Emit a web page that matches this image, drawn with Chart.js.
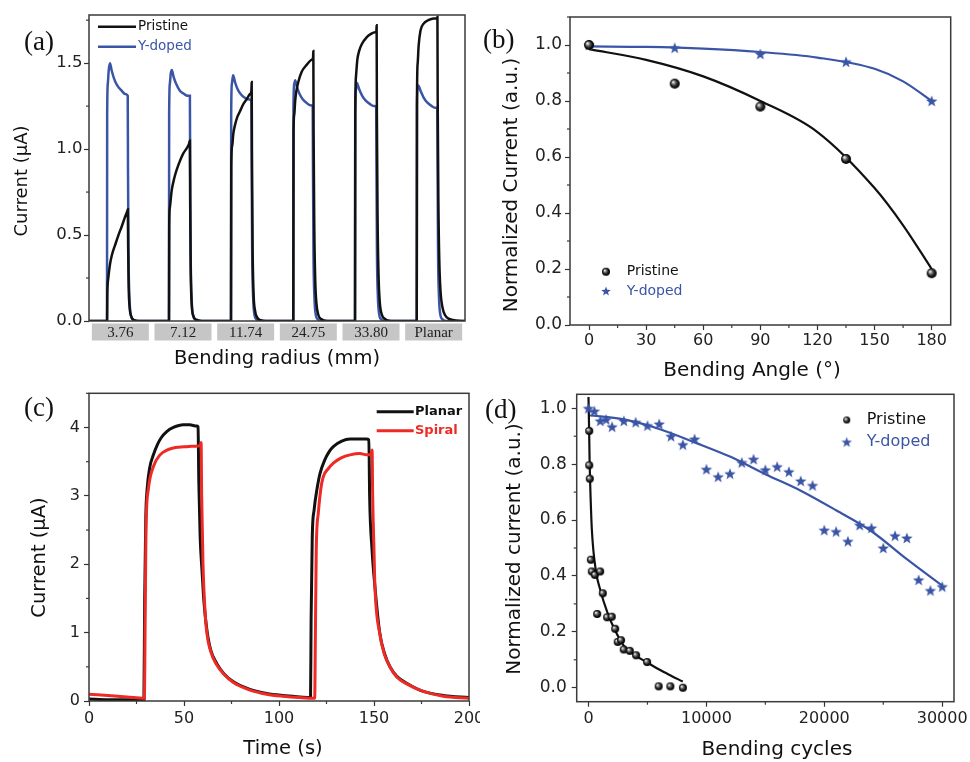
<!DOCTYPE html>
<html>
<head>
<meta charset="utf-8">
<title>Bending tests</title>
<script src="https://cdn.jsdelivr.net/npm/chart.js@4.4.1/dist/chart.umd.min.js"></script>
<style>
  html, body { margin: 0; background: #fff; }
  #page { position: relative; width: 970px; height: 762px; overflow: hidden; background: #fff; }
  #page canvas { position: absolute; }
  .tag { position: absolute; font: 27px "Liberation Serif", "Times New Roman", serif; line-height: 27px; color: #111; }
</style>
</head>
<body>
<div id="page">
  <canvas id="chartA" width="480" height="380" style="left:0;top:0"></canvas>
  <canvas id="chartB" width="490" height="392" style="left:480px;top:0"></canvas>
  <canvas id="chartC" width="480" height="382" style="left:0;top:380px"></canvas>
  <canvas id="chartD" width="490" height="382" style="left:480px;top:380px"></canvas>
  <div class="tag" style="left:24px;top:28px">(a)</div>
  <div class="tag" style="left:483px;top:26px">(b)</div>
  <div class="tag" style="left:24px;top:394px">(c)</div>
  <div class="tag" style="left:485px;top:396px">(d)</div>
</div>
<script>
// ---- (a) current pulses at each bending radius ----
const radiusLabels = ['3.76', '7.12', '11.74', '24.75', '33.80', 'Planar'];
const radiusCenters = [50, 150, 250, 350, 450, 550];
const yTicksA = [0, 0.5, 1.0, 1.5];
const pristineA = [
  [0,0],[28.9,0],[29.2,0.15],[30.5,0.24],[33.5,0.33],[37,0.39],[41.5,0.44],[47,0.5],[52.2,0.55],[57,0.6],[61.2,0.64],[62,0.65],[62.4,0.45],[63.3,0.2],[64.8,0.08],[67.5,0.025],[72,0.005],[80,0],
  [127.7,0],[128,0.55],[129,0.66],[132,0.76],[136,0.83],[140,0.88],[145,0.93],[150.5,0.975],[155,1.0],[159.6,1.03],[161,1.05],[161.4,0.7],[162.3,0.3],[163.8,0.1],[166.5,0.03],[171,0.008],[180,0],
  [226.6,0],[227,0.9],[228.5,1.02],[230.3,1.09],[233,1.14],[237,1.19],[241,1.22],[246,1.26],[251.6,1.29],[256.9,1.32],[259.2,1.34],[259.6,1.39],[260,1.0],[261,0.45],[262.5,0.17],[265,0.06],[268.5,0.02],[274,0.005],[282,0],
  [326,0],[326.4,1.1],[327.5,1.2],[329,1.28],[331,1.34],[334,1.39],[339.4,1.45],[347.4,1.49],[355.4,1.52],[357.5,1.53],[358,1.57],[358.4,1.1],[359.5,0.55],[361,0.24],[363,0.1],[366,0.035],[371,0.01],[380,0],
  [424.5,0],[424.9,1.2],[426,1.42],[428.2,1.52],[431,1.57],[435.2,1.61],[443,1.65],[450,1.67],[456.4,1.68],[458.5,1.68],[459,1.72],[459.4,1.2],[460.5,0.6],[462,0.27],[464,0.11],[467,0.04],[472,0.012],[482,0],
  [523,0],[523.4,1.3],[524.5,1.5],[526,1.6],[529,1.69],[534,1.73],[541.5,1.75],[550,1.76],[555.5,1.76],[556,1.77],[556.4,1.3],[557.5,0.7],[559,0.35],[561,0.17],[564,0.08],[568,0.035],[575,0.012],[585,0.003],[600,0]
];
const dopedA = [
  [0,0],[28.7,0],[29,1.2],[30,1.38],[31.5,1.46],[33.5,1.5],[36,1.46],[40,1.41],[45,1.37],[52,1.34],[58,1.32],[61.8,1.31],[62.2,0.9],[63,0.4],[64.5,0.14],[66.5,0.04],[70,0.01],[76,0],
  [127.6,0],[127.9,1.2],[129,1.38],[130.5,1.44],[132.2,1.46],[135,1.42],[139,1.38],[145,1.34],[152,1.32],[157,1.31],[161,1.31],[161.4,0.9],[162.2,0.4],[163.7,0.14],[165.7,0.04],[169,0.01],[175,0],
  [226.6,0],[226.9,1.2],[228,1.38],[230,1.43],[233,1.39],[237,1.35],[242,1.32],[248,1.3],[254,1.29],[259.2,1.28],[259.6,0.9],[260.4,0.4],[261.9,0.14],[263.9,0.04],[267,0.01],[273,0],
  [326,0],[326.3,1.25],[327.5,1.38],[329,1.4],[332,1.36],[336,1.32],[341,1.29],[347,1.27],[353,1.255],[357,1.25],[357.4,0.9],[358.2,0.4],[359.7,0.14],[361.7,0.04],[365,0.01],[371,0],
  [424.5,0],[424.8,1.2],[425.8,1.34],[427.5,1.385],[431,1.35],[436,1.31],[442,1.28],[449,1.26],[455,1.25],[458.3,1.246],[458.7,0.9],[459.5,0.4],[461,0.14],[463,0.04],[466,0.01],[472,0],
  [523,0],[523.3,1.25],[524.3,1.35],[525.5,1.37],[529,1.34],[534,1.3],[540,1.27],[547,1.25],[553,1.24],[555.8,1.24],[556.2,0.9],[557,0.4],[558.5,0.14],[560.5,0.04],[564,0.01],[570,0],[600,0]
];

// ---- (b) normalized current vs bending angle ----
const angles = [0, 45, 90, 135, 180];
const pristineB = [1.0, 0.862, 0.78, 0.593, 0.185];
const dopedB = [1.0, 0.99, 0.968, 0.94, 0.80];
const fitAngles = [0, 30, 60, 90, 120, 150, 165, 180];
const pristineFitB = [0.985, 0.947, 0.888, 0.80, 0.689, 0.489, 0.356, 0.20];
const dopedFitB = [0.995, 0.993, 0.987, 0.975, 0.955, 0.915, 0.87, 0.80];
const xTicksB = [0, 30, 60, 90, 120, 150, 180];
const yTicksB = [0, 0.2, 0.4, 0.6, 0.8, 1.0];

// ---- (c) planar vs spiral photocurrent ----
const planarC = [
  [0,0.03],[10,0.02],[20,0.02],[28.9,0.02],[29.3,1.5],[29.9,2.7],[30.6,3.1],[32,3.42],[33.9,3.6],[36,3.75],[38,3.85],[40.9,3.94],[44.4,4.0],[49.6,4.04],[53,4.04],[56.7,4.02],[57.4,4.01],
  [57.8,3.2],[58.5,2.4],[59.5,1.9],[60.5,1.45],[62,1.05],[64,0.75],[67.2,0.55],[71,0.4],[76,0.28],[84.7,0.17],[93.5,0.11],[102,0.08],[111,0.06],[116.6,0.05],
  [116.9,1.2],[117.5,2.4],[118.5,2.8],[120,3.1],[121.6,3.33],[124,3.52],[126.5,3.65],[128.6,3.72],[133,3.8],[137.4,3.83],[146,3.83],[147.3,3.82],
  [147.7,3.0],[149,2.2],[150.5,1.67],[153,1.0],[155.5,0.7],[158.4,0.5],[162,0.36],[167.2,0.26],[176,0.14],[186.5,0.08],[200,0.05]
];
const spiralC = [
  [0,0.1],[10,0.08],[20,0.06],[29.2,0.04],[29.5,1.0],[30,2.5],[31.2,3.09],[33.9,3.43],[37.4,3.6],[41,3.67],[44.4,3.7],[51.4,3.72],[57.5,3.73],[58.6,3.74],[59,3.78],
  [59.3,3.0],[60,2.0],[61,1.35],[62,1.0],[64,0.73],[67.2,0.53],[71,0.39],[76,0.27],[84.7,0.16],[93.5,0.1],[102,0.07],[111,0.05],[118.8,0.04],
  [119.1,0.8],[119.6,2.2],[120.7,2.75],[122,3.1],[123.3,3.28],[126,3.4],[128.6,3.48],[133,3.56],[137.4,3.6],[142.6,3.62],[146,3.6],[148.4,3.6],[149,3.67],
  [149.3,3.0],[150,2.2],[150.5,1.67],[153,0.99],[155.5,0.68],[158.4,0.5],[162,0.35],[167.2,0.25],[176,0.14],[186.5,0.07],[200,0.04]
];
const xTicksC = [0, 50, 100, 150, 200];
const yTicksC = [0, 1, 2, 3, 4];

// ---- (d) normalized current vs bending cycles ----
const cyclesDoped = [0,500,1000,1500,2000,3000,4000,5000,6000,7000,8000,9000,10000,11000,12000,13000,14000,15000,16000,17000,18000,19000,20000,21000,22000,23000,24000,25000,26000,27000,28000,29000,30000];
const dopedD = [1.0,0.99,0.955,0.96,0.934,0.955,0.95,0.938,0.944,0.90,0.87,0.89,0.782,0.755,0.766,0.806,0.818,0.78,0.791,0.773,0.74,0.724,0.564,0.559,0.524,0.582,0.572,0.5,0.544,0.536,0.386,0.348,0.362];
const cyclesPristine = [60,60,110,200,280,540,735,990,1210,1580,1970,2260,2480,2760,2990,3500,4035,4970,5950,6940,8010];
const pristineD = [0.919,0.796,0.748,0.458,0.416,0.404,0.264,0.416,0.338,0.252,0.254,0.211,0.164,0.17,0.137,0.132,0.116,0.092,0.005,0.005,0.0];
const fitCyclesPristine = [0,50,100,150,280,620,1000,1600,2200,3000,4000,5000,6000,7000,8000];
const pristineFitD = [1.04,0.93,0.80,0.72,0.57,0.42,0.35,0.27,0.21,0.15,0.115,0.09,0.065,0.043,0.022];
const fitCyclesDoped = [0,3000,6000,9000,12000,15000,18000,21000,24000,27000,30000];
const dopedFitD = [0.975,0.96,0.926,0.878,0.827,0.764,0.705,0.635,0.56,0.46,0.365];
const xTicksD = [0, 10000, 20000, 30000];
const yTicksD = [0, 0.2, 0.4, 0.6, 0.8, 1.0];

const BLUE = '#3a55a6';
const RED = '#ee2a24';
const INK = '#111';
const FONT = '"DejaVu Sans", "Liberation Sans", sans-serif';
Chart.defaults.font.family = FONT;
Chart.defaults.color = '#222';

const pairs = (xs, ys) => xs.map((x, i) => [x, ys[i]]);

// marker images: shaded ball and filled five-point star
function ball(r) {
  const c = document.createElement('canvas');
  c.width = c.height = 2 * r + 2;
  const g = c.getContext('2d');
  const m = r + 1;
  const grad = g.createRadialGradient(m - r * 0.35, m - r * 0.35, r * 0.1, m, m, r);
  grad.addColorStop(0, '#eeeeee');
  grad.addColorStop(0.35, '#666');
  grad.addColorStop(0.7, '#151515');
  grad.addColorStop(1, '#000');
  g.fillStyle = grad;
  g.beginPath(); g.arc(m, m, r, 0, Math.PI * 2); g.fill();
  return c;
}
function star(r, color) {
  const c = document.createElement('canvas');
  c.width = c.height = 2 * r + 2;
  const g = c.getContext('2d');
  const m = r + 1;
  g.beginPath();
  for (let k = 0; k < 10; k++) {
    const rr = k % 2 ? r * 0.42 : r;
    const a = -Math.PI / 2 + k * Math.PI / 5;
    g.lineTo(m + rr * Math.cos(a), m + rr * Math.sin(a) + r * 0.1);
  }
  g.closePath(); g.fillStyle = color; g.fill();
  return c;
}

// box around the plot, short outward minor ticks and the axis titles
const framePlugin = {
  id: 'frame',
  afterDraw(chart, args, opts) {
    const { ctx, chartArea: a } = chart;
    ctx.save();
    ctx.strokeStyle = '#3a3a3a';
    ctx.lineWidth = 1.5;
    ctx.strokeRect(a.left, a.top, a.right - a.left, a.bottom - a.top);
    ctx.lineWidth = 1.2;
    const minor = (scale, step, horizontal) => {
      if (!step) return;
      const majors = scale.ticks.map(t => t.value);
      const n0 = Math.ceil(scale.min / step - 1e-9), n1 = Math.floor(scale.max / step + 1e-9);
      for (let n = n0; n <= n1; n++) {
        const v = n * step;
        if (majors.some(mv => Math.abs(mv - v) < step * 1e-3)) continue;
        const p = scale.getPixelForValue(v);
        ctx.beginPath();
        if (horizontal) { ctx.moveTo(p, a.bottom); ctx.lineTo(p, a.bottom + 3); }
        else { ctx.moveTo(a.left, p); ctx.lineTo(a.left - 3, p); }
        ctx.stroke();
      }
    };
    minor(chart.scales.x, opts.xMinor, true);
    minor(chart.scales.y, opts.yMinor, false);

    ctx.fillStyle = INK;
    ctx.textAlign = 'center';
    ctx.textBaseline = 'middle';
    for (const t of opts.titles || []) {
      ctx.font = t.size + 'px ' + FONT;
      ctx.save();
      ctx.translate(t.x, t.y);
      if (t.vertical) ctx.rotate(-Math.PI / 2);
      ctx.fillText(t.text, 0, 0);
      ctx.restore();
    }
    ctx.restore();
  }
};

// legend drawn inside the plot
const keyPlugin = {
  id: 'key',
  afterDraw(chart, args, opts) {
    if (!opts.items) return;
    const ctx = chart.ctx;
    ctx.save();
    ctx.font = opts.font;
    ctx.textBaseline = 'middle';
    for (const it of opts.items) {
      if (it.line) {
        ctx.strokeStyle = it.color; ctx.lineWidth = it.width || 2.5;
        ctx.beginPath(); ctx.moveTo(it.x, it.y); ctx.lineTo(it.x + it.line, it.y); ctx.stroke();
      }
      if (it.marker) ctx.drawImage(it.marker, it.x - it.marker.width / 2, it.y - it.marker.height / 2);
      ctx.fillStyle = it.textColor;
      ctx.fillText(it.text, it.tx, it.y);
    }
    ctx.restore();
  }
};

// grey boxes with the bending radius under panel (a)
const radiusBoxes = {
  id: 'radiusBoxes',
  beforeDraw(chart, args, opts) {
    if (!opts.labels) return;
    const { ctx, scales: { x }, chartArea: a } = chart;
    ctx.save();
    ctx.font = opts.font;
    ctx.textAlign = 'center';
    ctx.textBaseline = 'middle';
    opts.labels.forEach((lab, i) => {
      const c = x.getPixelForValue(opts.centers[i]);
      ctx.fillStyle = '#c6c6c6';
      ctx.fillRect(c - opts.w / 2, a.bottom + opts.gap, opts.w, opts.h);
      ctx.fillStyle = '#222';
      ctx.fillText(lab, c, a.bottom + opts.gap + opts.h / 2 + 1);
    });
    ctx.restore();
  }
};
Chart.register(framePlugin, keyPlugin, radiusBoxes);

function scaleOpts(horizontal, size, o) {
  const shown = !!o.at;
  return {
    type: 'linear', min: o.min, max: o.max,
    border: { display: false },
    grid: { display: shown, drawOnChartArea: false, drawTicks: true, tickLength: 5, tickWidth: 1.2, tickColor: '#333' },
    ticks: {
      display: shown, padding: o.pad || 3, color: '#222',
      font: { size: o.tickSize || 16 }, maxRotation: 0, autoSkip: false,
      callback: o.fmt || (v => v)
    },
    afterBuildTicks(s) {
      if (o.at) s.ticks = o.at.map(v => ({ value: v }));
    },
    title: { display: false },
    afterFit(s) {
      if (horizontal) s.height = size; else s.width = size;
      s.paddingLeft = s.paddingRight = s.paddingTop = s.paddingBottom = 0;
    }
  };
}

function plot(id, area, datasets, xo, yo, plugins) {
  const cv = document.getElementById(id);
  const W = cv.width, H = cv.height;
  return new Chart(cv, {
    type: 'line',
    data: { datasets },
    options: {
      responsive: false, animation: false, events: [],
      layout: { autoPadding: false, padding: { left: 0, top: area.top, right: W - area.right, bottom: 0 } },
      plugins: Object.assign({ legend: { display: false }, tooltip: { enabled: false } }, plugins),
      scales: { x: scaleOpts(true, H - area.bottom, xo), y: scaleOpts(false, area.left, yo) }
    }
  });
}

const curve = (data, color, width) => ({
  data, borderColor: color, borderWidth: width, pointRadius: 0, fill: false, cubicInterpolationMode: 'monotone'
});
const marks = (data, img) => ({
  data, showLine: false, pointStyle: img, pointRadius: 5, borderWidth: 0
});
const oneDecimal = v => v.toFixed(1);

// (a)
plot('chartA', { left: 89, top: 15, right: 465, bottom: 321 },
  [curve(pristineA, INK, 2.5), curve(dopedA, BLUE, 2.5)],
  { min: 0, max: 600 },
  { min: 0, max: 1.78, at: yTicksA, fmt: oneDecimal, pad: 1.5, tickSize: 16.5 },
  {
    frame: { yMinor: 0.25, titles: [
      { text: 'Bending radius (mm)', size: 19.5, x: 277, y: 358.5 },
      { text: 'Current (\u03bcA)', size: 18, x: 22.8, y: 181, vertical: true }
    ] },
    radiusBoxes: { labels: radiusLabels, centers: radiusCenters, w: 57, h: 17, gap: 2.5,
                   font: '15px "Liberation Serif", "Times New Roman", serif' },
    key: { font: '13.5px ' + FONT, items: [
      { line: 38, x: 98, y: 26.7, color: INK, text: 'Pristine', tx: 138, textColor: INK },
      { line: 38, x: 98, y: 46.7, color: BLUE, text: 'Y-doped', tx: 138, textColor: BLUE }
    ] }
  });

// (b)
plot('chartB', { left: 90, top: 17, right: 470.7, bottom: 325 },
  [marks(pairs(angles, pristineB), ball(5)), marks(pairs(angles, dopedB), star(6, BLUE)),
   curve(pairs(fitAngles, pristineFitB), INK, 2.2), curve(pairs(fitAngles, dopedFitB), BLUE, 2.2)],
  { min: -10, max: 190, at: xTicksB, pad: 1.5 },
  { min: 0, max: 1.1, at: yTicksB, fmt: oneDecimal, pad: 3, tickSize: 17 },
  {
    frame: { xMinor: 15, yMinor: 0.1, titles: [
      { text: 'Bending Angle (\u00b0)', size: 20, x: 272, y: 371 },
      { text: 'Normalized Current (a.u.)', size: 20, x: 31.7, y: 185, vertical: true }
    ] },
    key: { font: '14px ' + FONT, items: [
      { marker: ball(4), x: 126, y: 271.7, text: 'Pristine', tx: 146.7, textColor: INK },
      { marker: star(5, BLUE), x: 126, y: 291, text: 'Y-doped', tx: 146.7, textColor: BLUE }
    ] }
  });

// (c)
plot('chartC', { left: 89, top: 13.3, right: 469, bottom: 321 },
  [curve(spiralC, RED, 3), curve(planarC, INK, 3)],
  { min: 0, max: 200, at: xTicksC, pad: 3.4 },
  { min: 0, max: 4.5, at: yTicksC, pad: 4 },
  {
    frame: { xMinor: 25, yMinor: 0.5, titles: [
      { text: 'Time (s)', size: 19.5, x: 283, y: 368.5 },
      { text: 'Current (\u03bcA)', size: 19.5, x: 40, y: 177.5, vertical: true }
    ] },
    key: { font: 'bold 13px ' + FONT, items: [
      { line: 37, x: 376.7, y: 31.7, color: INK, width: 3, text: 'Planar', tx: 415, textColor: INK },
      { line: 37, x: 376.7, y: 50.7, color: RED, width: 3, text: 'Spiral', tx: 415, textColor: RED }
    ] }
  });

// (d)
plot('chartD', { left: 96.7, top: 14.3, right: 474, bottom: 321.7 },
  [marks(pairs(cyclesPristine, pristineD), ball(4)), marks(pairs(cyclesDoped, dopedD), star(6, BLUE)),
   curve(pairs(fitCyclesPristine, pristineFitD), INK, 2.2), curve(pairs(fitCyclesDoped, dopedFitD), BLUE, 2.2)],
  { min: -1000, max: 31000, at: xTicksD, pad: 3 },
  { min: -0.05, max: 1.05, at: yTicksD, fmt: oneDecimal, pad: 5, tickSize: 17 },
  {
    frame: { xMinor: 5000, yMinor: 0.1, titles: [
      { text: 'Bending cycles', size: 20, x: 297, y: 369.3 },
      { text: 'Normalized current (a.u.)', size: 20, x: 35, y: 169, vertical: true }
    ] },
    key: { font: '16px ' + FONT, items: [
      { marker: ball(3.5), x: 366.7, y: 40, text: 'Pristine', tx: 386.7, textColor: INK },
      { marker: star(5.5, BLUE), x: 366.7, y: 62, text: 'Y-doped', tx: 386.7, textColor: BLUE }
    ] }
  });
</script>
</body>
</html>
